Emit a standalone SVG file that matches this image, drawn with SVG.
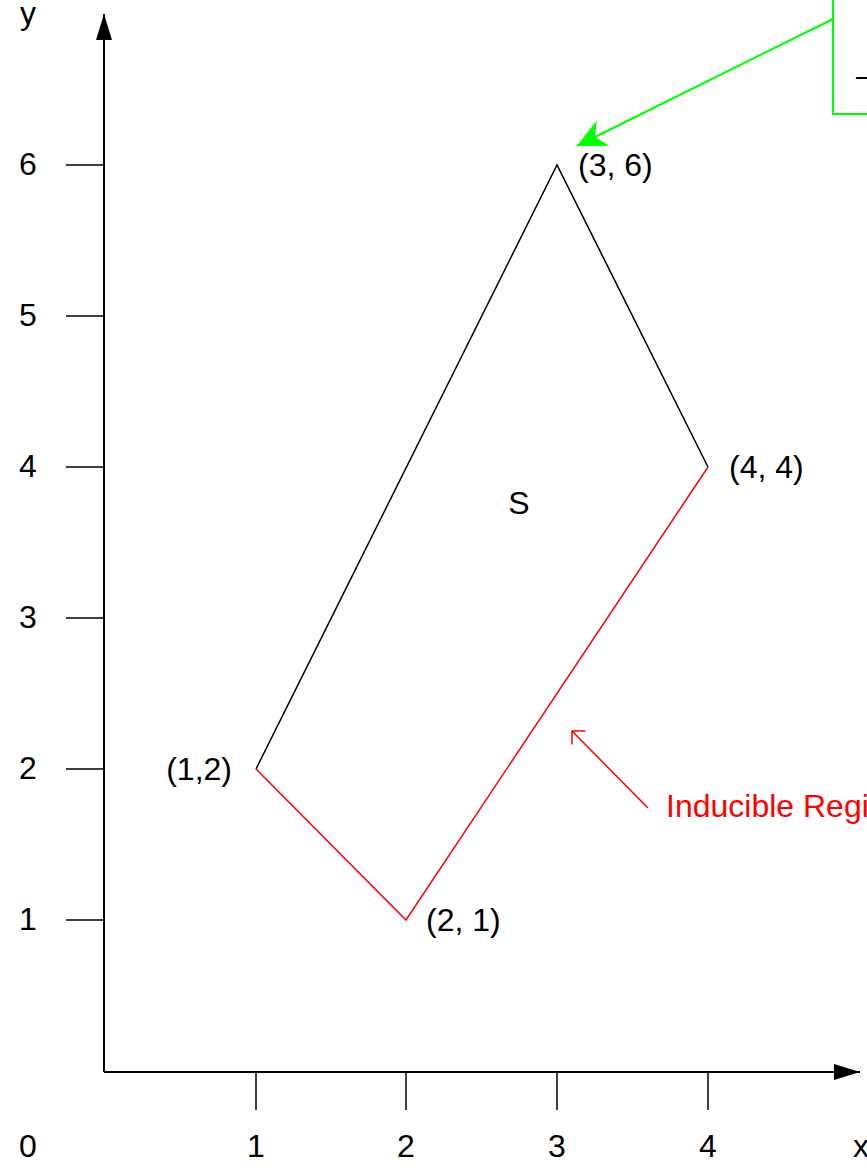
<svg xmlns="http://www.w3.org/2000/svg" width="867" height="1168" viewBox="0 0 867 1168">
<style>
text{font-family:"Liberation Sans",Arial,sans-serif;font-size:32px;fill:#000}
.ax{stroke:#000;stroke-width:2;fill:none}
.tk{stroke:#000;stroke-width:1.5;fill:none}
.blk{stroke:#000;stroke-width:1.5;fill:none}
.red{stroke:#ff0000;stroke-width:1.5;fill:none}
.grn{stroke:#00ff00;stroke-width:2;fill:none}
.mid{text-anchor:middle}
.end{text-anchor:end}
</style>
<defs>
<marker id="axhead" markerUnits="userSpaceOnUse" markerWidth="26" markerHeight="16" refX="26" refY="8" orient="auto" overflow="visible">
<path d="M0,0 L26,8 L0,16 z" fill="#000"/>
</marker>
<marker id="grnhead" markerUnits="userSpaceOnUse" markerWidth="29" markerHeight="28" refX="29" refY="14" orient="auto" overflow="visible">
<path d="M0,0 L29,14 L0,28 L9,14 z" fill="#00ff00"/>
</marker>
<marker id="redhead" markerUnits="userSpaceOnUse" markerWidth="20" markerHeight="20" refX="0" refY="0" orient="auto" overflow="visible">
<path d="M-9.5,-9.5 L0,0 L-9.5,9.5" fill="none" stroke="#ff0000" stroke-width="1.5"/>
</marker>
</defs>

<g id="axes">
<line class="ax" x1="104" y1="1072" x2="104" y2="14" marker-end="url(#axhead)"/>
<line class="ax" x1="104" y1="1072" x2="860" y2="1072" marker-end="url(#axhead)"/>
<g class="tk">
<line x1="66" y1="165" x2="104" y2="165"/>
<line x1="66" y1="316" x2="104" y2="316"/>
<line x1="66" y1="467" x2="104" y2="467"/>
<line x1="66" y1="618" x2="104" y2="618"/>
<line x1="66" y1="769" x2="104" y2="769"/>
<line x1="66" y1="920" x2="104" y2="920"/>
<line x1="256" y1="1072" x2="256" y2="1110"/>
<line x1="406" y1="1072" x2="406" y2="1110"/>
<line x1="557" y1="1072" x2="557" y2="1110"/>
<line x1="708" y1="1072" x2="708" y2="1110"/>
</g>
<text class="mid" x="28" y="24">y</text>
<text class="mid" x="28" y="175">6</text>
<text class="mid" x="28" y="326">5</text>
<text class="mid" x="28" y="477">4</text>
<text class="mid" x="28" y="628">3</text>
<text class="mid" x="28" y="779">2</text>
<text class="mid" x="28" y="930">1</text>
<text class="mid" x="28" y="1157">0</text>
<text class="mid" x="256" y="1157">1</text>
<text class="mid" x="406" y="1157">2</text>
<text class="mid" x="557" y="1157">3</text>
<text class="mid" x="708" y="1157">4</text>
<text class="mid" x="861" y="1157">x</text>
</g>

<g id="region-S">
<polyline class="blk" points="256,769 557,165 708,467"/>
<polyline class="red" points="708,467 406,920 256,769"/>
<text class="mid" x="519" y="514">S</text>
</g>

<g id="vertex-labels">
<text x="578" y="176">(3, 6)</text>
<text x="729" y="478">(4, 4)</text>
<text class="end" x="232" y="780">(1,2)</text>
<text x="426" y="931">(2, 1)</text>
</g>

<g id="note-box">
<rect x="833" y="-10" width="100" height="124" class="grn"/>
<text x="856" y="86">–</text>
</g>

<g id="inducible-label">
<text x="666" y="817" style="fill:#ff0000">Inducible Region</text>
</g>

<g id="connectors">
<line class="grn" x1="833" y1="19" x2="577" y2="146" marker-end="url(#grnhead)"/>
<line class="red" x1="648" y1="808" x2="572" y2="731" marker-end="url(#redhead)"/>
</g>
</svg>
